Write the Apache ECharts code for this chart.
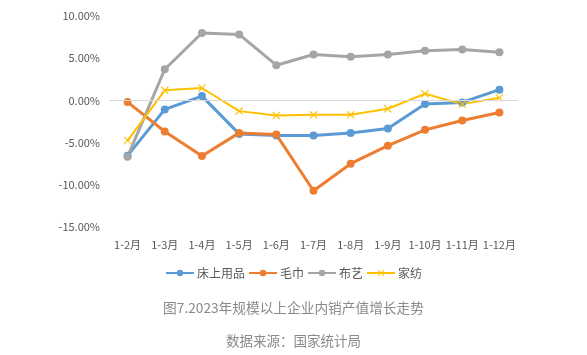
<!DOCTYPE html>
<html><head><meta charset="utf-8">
<script src="https://cdn.jsdelivr.net/npm/echarts@6/dist/echarts.min.js"></script>
<style>html,body{margin:0;padding:0;background:#fff}#c{width:587px;height:355px}</style>
</head><body><div id="c"></div>
<script>
var categories = ['1-2月','1-3月','1-4月','1-5月','1-6月','1-7月','1-8月','1-9月','1-10月','1-11月','1-12月'];
var bedding = [-6.55,-1.07,0.51,-3.97,-4.17,-4.17,-3.85,-3.33,-0.44,-0.24,1.27];
var towel = [-0.2,-3.69,-6.59,-3.85,-4.05,-10.7,-7.5,-5.36,-3.49,-2.38,-1.43];
var fabric = [-6.67,3.69,7.98,7.82,4.17,5.44,5.16,5.44,5.87,6.03,5.71];
var homeTextile = [-4.76,1.19,1.47,-1.27,-1.79,-1.71,-1.71,-0.99,0.79,-0.44,0.32];
var yTicks = {min:-15, max:10, interval:5};
var seriesNames = ['床上用品','毛巾','布艺','家纺'];
var titleText = '图7.2023年规模以上企业内销产值增长走势';
var sourceText = '数据来源：国家统计局';

var font = '"Noto Sans CJK SC", "Noto Sans", sans-serif';
var xSym = 'path://M0,1L1,0L5,4L9,0L10,1L6,5L10,9L9,10L5,6L1,10L0,9L4,5Z';
var chart = echarts.init(document.getElementById('c'));
function mk(name, data, color, width, symbol, size){
  return {name:name, type:'line', data:data, symbol:symbol, symbolSize:size,
    lineStyle:{color:color, width:width}, itemStyle:{color:color},
    animation:false};
}
var s = [
  mk(seriesNames[0], bedding, '#5b9bd5', 3, 'circle', 8),
  mk(seriesNames[1], towel, '#ed7d31', 3, 'circle', 8),
  mk(seriesNames[2], fabric, '#a5a5a5', 3, 'circle', 8),
  mk(seriesNames[3], homeTextile, '#ffc000', 2, xSym, 8)
];
s[0].markLine = {silent:true, symbol:'none', label:{show:false}, animation:false,
  lineStyle:{color:'#d9d9d9', width:1, type:'solid'}, data:[{yAxis:0}]};
s[0].z = 3;
chart.setOption({
  backgroundColor:'#fff',
  textStyle:{fontFamily:font},
  title:[
    {text:titleText, left:'center', top:296, textStyle:{fontSize:13.7, fontWeight:'normal', color:'#8a8a8a', fontFamily:font}},
    {text:sourceText, left:'center', top:329, textStyle:{fontSize:13.5, fontWeight:'normal', color:'#8a8a8a', fontFamily:font}}
  ],
  legend:{data:seriesNames, left:'center', top:262, itemWidth:28, itemHeight:8, itemGap:3,
    textStyle:{fontSize:12, color:'#595959', fontFamily:font, padding:[0,0,0,-2]}},
  grid:{left:109, right:69, top:16, bottom:128, containLabel:false},
  xAxis:{type:'category', data:categories, boundaryGap:true,
    axisLine:{show:false}, axisTick:{show:false},
    axisLabel:{color:'#595959', fontSize:11, margin:12, interval:0, fontFamily:font}},
  yAxis:{type:'value', min:yTicks.min, max:yTicks.max, interval:yTicks.interval,
    axisLine:{show:false}, axisTick:{show:false}, splitLine:{show:false},
    axisLabel:{color:'#595959', fontSize:11, margin:9, fontFamily:font,
      formatter:function(v){return v.toFixed(2)+'%';}}},
  series:s
});
</script></body></html>
